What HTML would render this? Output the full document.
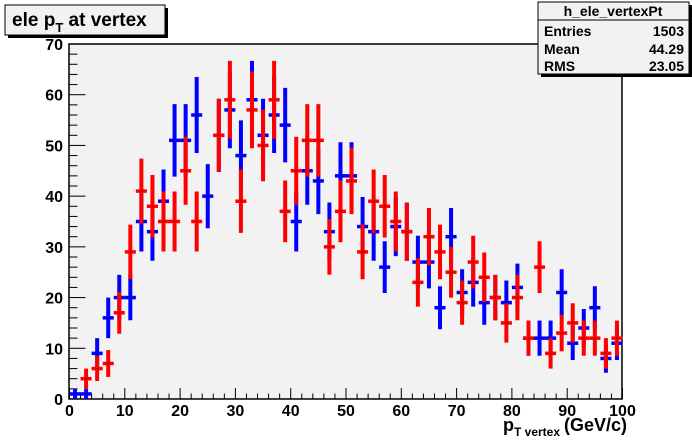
<!DOCTYPE html>
<html><head><meta charset="utf-8"><style>
html,body{margin:0;padding:0;background:#fff;}
svg{display:block;font-family:"Liberation Sans",Arial,sans-serif;font-weight:bold;}
</style></head><body>
<svg id="c" width="692" height="444" viewBox="0 0 692 444">
  <rect x="0" y="0" width="692" height="444" fill="#ffffff"/>
  <rect x="69" y="44" width="553" height="355" fill="#f2f2f2" stroke="#000" stroke-width="1.5"/>
  <g id="axes"></g>
  <g id="marks"></g>
  <g>
    <rect x="8" y="8" width="160" height="30" fill="#000"/>
    <rect x="5" y="5" width="160" height="30" fill="#f2f2f2" stroke="#000" stroke-width="1"/>
    <text x="12" y="26" font-size="19">ele p<tspan font-size="13" dy="6">T</tspan><tspan dy="-6"> at vertex</tspan></text>
  </g>
  <g>
    <rect x="541" y="5" width="151" height="72" fill="#000"/>
    <rect x="538" y="2" width="151" height="72" fill="#f2f2f2" stroke="#000" stroke-width="1"/>
    <line x1="538" y1="20" x2="689" y2="20" stroke="#000"/>
    <text x="613" y="16" font-size="14" text-anchor="middle">h_ele_vertexPt</text>
    <text x="544" y="36" font-size="14">Entries</text>
    <text x="684" y="36" font-size="14" text-anchor="end">1503</text>
    <text x="544" y="54" font-size="14">Mean</text>
    <text x="684" y="54" font-size="14" text-anchor="end">44.29</text>
    <text x="544" y="71" font-size="14">RMS</text>
    <text x="684" y="71" font-size="14" text-anchor="end">23.05</text>
  </g>
  <text x="503" y="431" font-size="18">p<tspan font-size="12" dy="5">T vertex</tspan><tspan dy="-5" dx="4">(GeV/c)</tspan></text>
</svg>
<script>
const binCenters=[1,3,5,7,9,11,13,15,17,19,21,23,25,27,29,31,33,35,37,39,41,43,45,47,49,51,53,55,57,59,61,63,65,67,69,71,73,75,77,79,81,83,85,87,89,91,93,95,97,99];
const blueValues=[1,1,9,16,20,20,35,33,39,51,51,56,40,52,57,48,59,52,56,54,35,45,43,33,44,44,34,33,26,34,33,27,27,18,32,21,23,19,20,19,22,12,12,12,21,11,14,18,8,11];
const redValues=[0,4,6,7,17,29,41,38,35,35,45,35,0,52,59,39,57,50,59,37,45,51,51,30,37,43,29,39,38,35,33,23,32,29,25,19,27,24,20,15,20,12,26,9,13,15,12,12,9,12];
const xTickLabels=[0,10,20,30,40,50,60,70,80,90,100];
const yTickLabels=[0,10,20,30,40,50,60,70];
const X0=69.5,X1=622.5,Y0=399,Y1=44,XMAX=100,YMAX=70,BW=2;
const xs=v=>X0+(X1-X0)*v/XMAX;
const ys=v=>Y0-(Y0-Y1)*v/YMAX;
const NS='http://www.w3.org/2000/svg';
function mk(tag,attrs,parent){const e=document.createElementNS(NS,tag);for(const k in attrs)e.setAttribute(k,attrs[k]);parent.appendChild(e);return e;}
const axes=document.getElementById('axes');
for(let v=0;v<=XMAX;v+=2){
  const major=v%10===0;
  const t=mk('line',{x1:xs(v),x2:xs(v),y1:Y0,y2:Y0-(major?11:5.5),stroke:'#000','stroke-width':1},axes);
  
  
}
xTickLabels.forEach(v=>{
  const t=mk('text',{x:xs(v),y:416,'font-size':16,'text-anchor':'middle'},axes);
  t.textContent=v;
  
  
});
for(let v=0;v<=YMAX;v+=2){
  const major=v%10===0;
  const t=mk('line',{x1:X0,x2:X0+(major?16:8),y1:ys(v),y2:ys(v),stroke:'#000','stroke-width':1},axes);
  
  
}
yTickLabels.forEach(v=>{
  const t=mk('text',{x:63,y:ys(v)+6,'font-size':16,'text-anchor':'end'},axes);
  t.textContent=v;
  
  
});
const marks=document.getElementById('marks');
function drawSeries(vals,color,name){
  const g=mk('g',{},marks);
  
  
  vals.forEach((v,i)=>{
    if(v<=0)return;
    const c=binCenters[i],e=Math.sqrt(v);
    const vl=mk('line',{x1:xs(c),x2:xs(c),y1:ys(Math.min(v+e,YMAX)),y2:ys(Math.max(v-e,0)),stroke:color,'stroke-width':4},g);
    
    
    const hl=mk('line',{x1:xs(c-BW/2),x2:xs(c+BW/2),y1:ys(v),y2:ys(v),stroke:color,'stroke-width':3.5},g);
    
    
    const d=mk('rect',{x:xs(c)-0.5,y:ys(v)-0.5,width:1,height:1,fill:'#000'},g);
    
    
  });
}
drawSeries(blueValues,'#0000ff','blue-series');
drawSeries(redValues,'#ff0000','red-series');
</script>
</body></html>
